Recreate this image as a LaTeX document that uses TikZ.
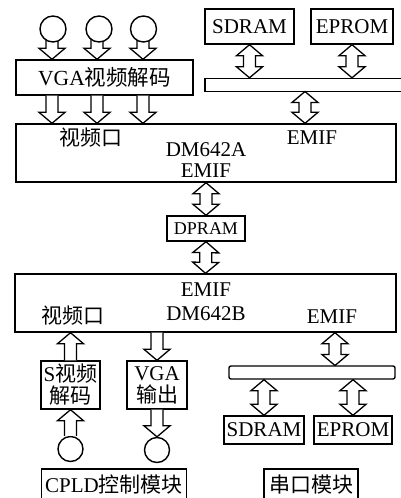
\documentclass[tikz,border=0pt]{standalone}
\usepackage{fontspec}
\setmainfont{Liberation Serif}
\newfontfamily\cjk{Noto Sans CJK SC}
\usetikzlibrary{arrows.meta, calc}

% points beside the line, near its target and near its start
\newcommand{\nearend}[1]{($(\tikztotarget)!11pt!(\tikztostart)!#1!90:(\tikztotarget)$)}
\newcommand{\nearstart}[1]{($(\tikztostart)!11pt!(\tikztotarget)!#1!90:(\tikztotarget)$)}
\newcommand{\atstart}[1]{($(\tikztostart)!#1!90:(\tikztotarget)$)}

\begin{document}
\begin{tikzpicture}[
            x=1pt, y=-1pt,
            modbox/.style={draw=black, line width=1.4pt, rectangle, inner sep=0pt, align=center, font=\fontsize{21}{22}\selectfont},
            bus/.style={draw=black, line width=1.4pt, rectangle, inner sep=0pt, minimum height=13pt},
            port/.style={circle, draw=black, line width=1.4pt, fill=white, inner sep=0pt, minimum size=26pt},
            varlabel/.style={inner sep=0pt, font=\fontsize{21}{22}\selectfont},
            flow/.style={draw=black, fill=white, line width=1.3pt, to path={
                \atstart{6pt} -- \nearend{6pt} -- \nearend{13pt} -- (\tikztotarget)
                -- \nearend{-13pt} -- \nearend{-6pt} -- \atstart{-6pt}}},
            duplex/.style={draw=black, fill=white, line width=1.3pt, to path={
                (\tikztostart) -- \nearstart{13pt} -- \nearstart{6pt} -- \nearend{6pt} -- \nearend{13pt} -- (\tikztotarget)
                -- \nearend{-13pt} -- \nearend{-6pt} -- \nearstart{-6pt} -- \nearstart{-13pt} -- cycle}}
        ]
        \useasboundingbox (0,0) rectangle (400,498);

        % DM642A side
        \node[modbox, minimum width=177pt, minimum height=35pt, font=\fontsize{21.5}{22}\selectfont] (vgadec) at (104.5,77.5) {VGA{\cjk 视频解码}};
        \node[modbox, minimum width=380pt, minimum height=58pt] (dspA) at (206,153) {};
        \node[varlabel] (vidA) at (91,138) {\cjk 视频口};
        \node[varlabel] (emifAr) at (312,138) {EMIF};
        \node[varlabel] (nameA) at (206,150) {DM642A};
        \node[varlabel] (emifAb) at (206,171) {EMIF};
        \node[modbox, minimum width=89pt, minimum height=35pt] (sdramA) at (249.5,26.5) {SDRAM};
        \node[modbox, minimum width=82pt, minimum height=35pt] (epromA) at (352,26.5) {EPROM};
        \node[bus, minimum width=197pt] (busA) at (303.5,85) {};
        \coordinate (busAport) at (305,91.5);
        \coordinate (tapA) at (52,38);
        \coordinate (tapB) at (97,38);
        \coordinate (tapC) at (143,38);

        % DPRAM
        \node[modbox, minimum width=78pt, minimum height=25pt, font=\fontsize{18}{20}\selectfont] (dpram) at (206,228.5) {DPRAM};

        % DM642B side
        \node[modbox, minimum width=381pt, minimum height=58pt] (dspB) at (205.5,303) {};
        \node[varlabel] (emifBt) at (206,290) {EMIF};
        \node[varlabel] (nameB) at (206,314) {DM642B};
        \node[varlabel] (vidB) at (73,316) {\cjk 视频口};
        \node[varlabel] (emifBr) at (332,317) {EMIF};
        \node[modbox, minimum width=59pt, minimum height=48pt] (sdec) at (70.5,385) {S{\cjk 视频}\\{\cjk 解码}};
        \node[modbox, minimum width=60pt, minimum height=48pt] (vgaout) at (157,385) {VGA\\{\cjk 输出}};
        \node[port, minimum size=25pt] (camS) at (70.5,449) {};
        \node[port, minimum size=25pt] (monitor) at (157,450) {};
        \node[bus, rounded corners=2pt, minimum width=166pt] (busB) at (312,372.5) {};
        \coordinate (busBport) at (335,365.5);
        \node[modbox, minimum width=80pt, minimum height=28pt] (sdramB) at (264,430) {SDRAM};
        \node[modbox, minimum width=78pt, minimum height=28pt] (epromB) at (353,430) {EPROM};
        \node[modbox, minimum width=145pt, minimum height=32pt] (cpld) at (114,485) {CPLD{\cjk 控制模块}};
        \node[modbox, minimum width=94pt, minimum height=32pt] (uart) at (311,485) {\cjk 串口模块};

        % connectors
        \foreach \tap in {tapA, tapB, tapC} {
            \path[flow] (\tap) to (\tap |- vgadec.north);
            \path[flow] (\tap |- vgadec.south) to (\tap |- dspA.north);
        }
        \path[duplex] (sdramA.south) to (sdramA.south |- busA.north);
        \path[duplex] (epromA.south) to (epromA.south |- busA.north);
        \path[duplex] (busAport) to (busAport |- dspA.north);
        \path[duplex] (dspA.south) to (dpram.north);
        \path[duplex] (dpram.south) to (dspB.north);
        \path[flow] (sdec.north) to (sdec.north |- dspB.south);
        \path[flow] (vgaout.north |- dspB.south) to (vgaout.north);
        \path[duplex] (busBport) to (busBport |- dspB.south);
        \path[duplex] (sdramB.north) to (sdramB.north |- busB.south);
        \path[duplex] (epromB.north) to (epromB.north |- busB.south);
        \path[flow] (camS.north) to (sdec.south);
        \path[flow] (vgaout.south) to (monitor.north);

        % signal inputs
        \node[port] (camA) at (53,29) {};
        \node[port] (camB) at (99,29) {};
        \node[port] (camC) at (143.5,29) {};

    \end{tikzpicture}
\end{document}
